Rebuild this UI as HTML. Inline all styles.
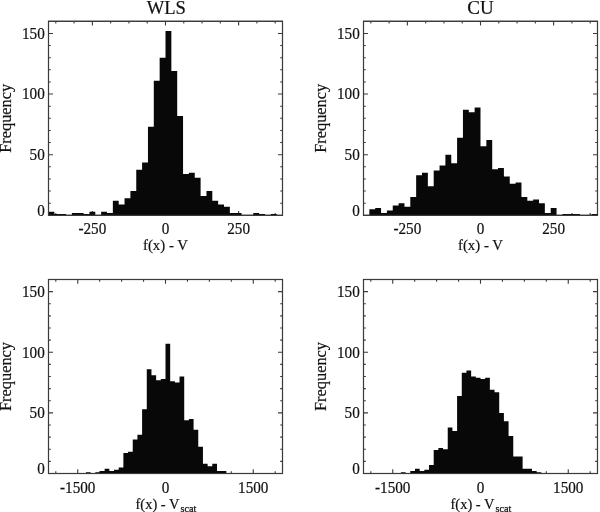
<!DOCTYPE html>
<html><head><meta charset="utf-8"><style>
html,body{margin:0;padding:0;background:#fff;}
body{width:600px;height:512px;overflow:hidden;}
svg{display:block;will-change:transform;}
.tk{font-family:"Liberation Serif", serif;font-size:15.5px;fill:#111;stroke:#111;stroke-width:0.2px;}
.sub{font-family:"Liberation Serif", serif;font-size:10.2px;fill:#111;stroke:#111;stroke-width:0.25px;}
.yt{font-family:"Liberation Serif", serif;font-size:16px;fill:#111;stroke:#111;stroke-width:0.2px;}
.ti{font-family:"Liberation Serif", serif;font-size:19px;fill:#111;stroke:#111;stroke-width:0.2px;}
</style></head><body>
<svg width="600" height="512" viewBox="0 0 600 512">
<rect width="600" height="512" fill="#fff"/>
<rect x="48.5" y="21.3" width="234.0" height="194.0" fill="none" stroke="#222" stroke-width="1.1"/>
<path d="M48.5 203.18h2.3M282.5 203.18h-2.3M48.5 191.05h2.3M282.5 191.05h-2.3M48.5 178.93h2.3M282.5 178.93h-2.3M48.5 166.80h2.3M282.5 166.80h-2.3M48.5 154.68h4.5M282.5 154.68h-4.5M48.5 142.55h2.3M282.5 142.55h-2.3M48.5 130.43h2.3M282.5 130.43h-2.3M48.5 118.30h2.3M282.5 118.30h-2.3M48.5 106.18h2.3M282.5 106.18h-2.3M48.5 94.05h4.5M282.5 94.05h-4.5M48.5 81.93h2.3M282.5 81.93h-2.3M48.5 69.80h2.3M282.5 69.80h-2.3M48.5 57.68h2.3M282.5 57.68h-2.3M48.5 45.55h2.3M282.5 45.55h-2.3M48.5 33.43h4.5M282.5 33.43h-4.5M92.38 21.3v4.2M92.38 215.3v-4.2M165.50 21.3v4.2M165.50 215.3v-4.2M238.62 21.3v4.2M238.62 215.3v-4.2M55.81 21.3v2.2M55.81 215.3v-2.2M74.09 21.3v2.2M74.09 215.3v-2.2M110.66 21.3v2.2M110.66 215.3v-2.2M128.94 21.3v2.2M128.94 215.3v-2.2M147.22 21.3v2.2M147.22 215.3v-2.2M183.78 21.3v2.2M183.78 215.3v-2.2M202.06 21.3v2.2M202.06 215.3v-2.2M220.34 21.3v2.2M220.34 215.3v-2.2M256.91 21.3v2.2M256.91 215.3v-2.2M275.19 21.3v2.2M275.19 215.3v-2.2" stroke="#3a3a3a" stroke-width="1.1" fill="none"/>
<path d="M48.50 215.30L48.50 211.66L54.35 211.66L54.35 214.09L60.20 214.09L60.20 214.09L66.05 214.09L66.05 215.30L71.90 215.30L71.90 212.88L77.75 212.88L77.75 212.88L83.60 212.88L83.60 214.09L89.45 214.09L89.45 211.66L95.30 211.66L95.30 215.30L101.15 215.30L101.15 211.66L107.00 211.66L107.00 212.88L112.85 212.88L112.85 200.75L118.70 200.75L118.70 204.39L124.55 204.39L124.55 198.33L130.40 198.33L130.40 191.05L136.25 191.05L136.25 169.71L142.10 169.71L142.10 162.44L147.95 162.44L147.95 126.79L153.80 126.79L153.80 80.71L159.65 80.71L159.65 57.68L165.50 57.68L165.50 31.00L171.35 31.00L171.35 71.01L177.20 71.01L177.20 115.88L183.05 115.88L183.05 174.08L188.90 174.08L188.90 172.86L194.75 172.86L194.75 177.71L200.60 177.71L200.60 195.90L206.45 195.90L206.45 191.05L212.30 191.05L212.30 200.75L218.15 200.75L218.15 204.39L224.00 204.39L224.00 206.81L229.85 206.81L229.85 212.88L235.70 212.88L235.70 212.88L241.55 212.88L241.55 215.30L247.40 215.30L247.40 215.30L253.25 215.30L253.25 212.88L259.10 212.88L259.10 214.09L264.95 214.09L264.95 215.30L270.80 215.30L270.80 214.09L276.65 214.09L276.65 215.30L282.50 215.30L282.50 215.30Z" fill="#080808"/>
<rect x="48.5" y="21.3" width="234.0" height="194.0" fill="none" stroke="#3a3a3a" stroke-width="1.1"/>
<text transform="translate(44.80 215.50) scale(0.98 1.075)" text-anchor="end" class="tk">0</text>
<text transform="translate(44.80 159.98) scale(0.98 1.075)" text-anchor="end" class="tk">50</text>
<text transform="translate(44.80 99.35) scale(0.98 1.075)" text-anchor="end" class="tk">100</text>
<text transform="translate(44.80 38.73) scale(0.98 1.075)" text-anchor="end" class="tk">150</text>
<text transform="translate(92.38 234.30) scale(0.98 1.075)" text-anchor="middle" class="tk">-250</text>
<text transform="translate(165.50 234.30) scale(0.98 1.075)" text-anchor="middle" class="tk">0</text>
<text transform="translate(238.62 234.30) scale(0.98 1.075)" text-anchor="middle" class="tk">250</text>
<text transform="translate(10.60 118.30) rotate(-90)" text-anchor="middle" class="yt" textLength="69" lengthAdjust="spacingAndGlyphs">Frequency</text>
<text x="165.50" y="250.30" text-anchor="middle" class="tk" textLength="45" lengthAdjust="spacingAndGlyphs">f(x) - V</text>
<text transform="translate(166.35 13.7) scale(0.977 1)" text-anchor="middle" class="ti">WLS</text>
<rect x="363.5" y="21.3" width="234.0" height="194.0" fill="none" stroke="#222" stroke-width="1.1"/>
<path d="M363.5 203.18h2.3M597.5 203.18h-2.3M363.5 191.05h2.3M597.5 191.05h-2.3M363.5 178.93h2.3M597.5 178.93h-2.3M363.5 166.80h2.3M597.5 166.80h-2.3M363.5 154.68h4.5M597.5 154.68h-4.5M363.5 142.55h2.3M597.5 142.55h-2.3M363.5 130.43h2.3M597.5 130.43h-2.3M363.5 118.30h2.3M597.5 118.30h-2.3M363.5 106.18h2.3M597.5 106.18h-2.3M363.5 94.05h4.5M597.5 94.05h-4.5M363.5 81.93h2.3M597.5 81.93h-2.3M363.5 69.80h2.3M597.5 69.80h-2.3M363.5 57.68h2.3M597.5 57.68h-2.3M363.5 45.55h2.3M597.5 45.55h-2.3M363.5 33.43h4.5M597.5 33.43h-4.5M407.38 21.3v4.2M407.38 215.3v-4.2M480.50 21.3v4.2M480.50 215.3v-4.2M553.62 21.3v4.2M553.62 215.3v-4.2M370.81 21.3v2.2M370.81 215.3v-2.2M389.09 21.3v2.2M389.09 215.3v-2.2M425.66 21.3v2.2M425.66 215.3v-2.2M443.94 21.3v2.2M443.94 215.3v-2.2M462.22 21.3v2.2M462.22 215.3v-2.2M498.78 21.3v2.2M498.78 215.3v-2.2M517.06 21.3v2.2M517.06 215.3v-2.2M535.34 21.3v2.2M535.34 215.3v-2.2M571.91 21.3v2.2M571.91 215.3v-2.2M590.19 21.3v2.2M590.19 215.3v-2.2" stroke="#3a3a3a" stroke-width="1.1" fill="none"/>
<path d="M363.50 215.30L363.50 215.30L369.35 215.30L369.35 209.24L375.20 209.24L375.20 208.03L381.05 208.03L381.05 212.88L386.90 212.88L386.90 210.45L392.75 210.45L392.75 205.60L398.60 205.60L398.60 203.18L404.45 203.18L404.45 206.81L410.30 206.81L410.30 197.11L416.15 197.11L416.15 175.29L422.00 175.29L422.00 172.86L427.85 172.86L427.85 186.20L433.70 186.20L433.70 170.44L439.55 170.44L439.55 165.59L445.40 165.59L445.40 154.68L451.25 154.68L451.25 163.16L457.10 163.16L457.10 137.70L462.95 137.70L462.95 109.81L468.80 109.81L468.80 112.24L474.65 112.24L474.65 107.39L480.50 107.39L480.50 146.19L486.35 146.19L486.35 140.12L492.20 140.12L492.20 169.23L498.05 169.23L498.05 168.01L503.90 168.01L503.90 176.50L509.75 176.50L509.75 183.78L515.60 183.78L515.60 182.56L521.45 182.56L521.45 197.11L527.30 197.11L527.30 200.75L533.15 200.75L533.15 199.54L539.00 199.54L539.00 203.18L544.85 203.18L544.85 212.88L550.70 212.88L550.70 208.03L556.55 208.03L556.55 215.30L562.40 215.30L562.40 214.09L568.25 214.09L568.25 214.09L574.10 214.09L574.10 214.09L579.95 214.09L579.95 215.30L585.80 215.30L585.80 215.30L591.65 215.30L591.65 214.09L597.50 214.09L597.50 215.30Z" fill="#080808"/>
<rect x="363.5" y="21.3" width="234.0" height="194.0" fill="none" stroke="#3a3a3a" stroke-width="1.1"/>
<text transform="translate(359.80 215.50) scale(0.98 1.075)" text-anchor="end" class="tk">0</text>
<text transform="translate(359.80 159.98) scale(0.98 1.075)" text-anchor="end" class="tk">50</text>
<text transform="translate(359.80 99.35) scale(0.98 1.075)" text-anchor="end" class="tk">100</text>
<text transform="translate(359.80 38.73) scale(0.98 1.075)" text-anchor="end" class="tk">150</text>
<text transform="translate(407.38 234.30) scale(0.98 1.075)" text-anchor="middle" class="tk">-250</text>
<text transform="translate(480.50 234.30) scale(0.98 1.075)" text-anchor="middle" class="tk">0</text>
<text transform="translate(553.62 234.30) scale(0.98 1.075)" text-anchor="middle" class="tk">250</text>
<text transform="translate(325.60 118.30) rotate(-90)" text-anchor="middle" class="yt" textLength="69" lengthAdjust="spacingAndGlyphs">Frequency</text>
<text x="480.50" y="250.30" text-anchor="middle" class="tk" textLength="45" lengthAdjust="spacingAndGlyphs">f(x) - V</text>
<text x="480.50" y="13.70" text-anchor="middle" class="ti">CU</text>
<rect x="48.5" y="279.5" width="234.0" height="194.0" fill="none" stroke="#222" stroke-width="1.1"/>
<path d="M48.5 461.38h2.3M282.5 461.38h-2.3M48.5 449.25h2.3M282.5 449.25h-2.3M48.5 437.12h2.3M282.5 437.12h-2.3M48.5 425.00h2.3M282.5 425.00h-2.3M48.5 412.88h4.5M282.5 412.88h-4.5M48.5 400.75h2.3M282.5 400.75h-2.3M48.5 388.62h2.3M282.5 388.62h-2.3M48.5 376.50h2.3M282.5 376.50h-2.3M48.5 364.38h2.3M282.5 364.38h-2.3M48.5 352.25h4.5M282.5 352.25h-4.5M48.5 340.12h2.3M282.5 340.12h-2.3M48.5 328.00h2.3M282.5 328.00h-2.3M48.5 315.88h2.3M282.5 315.88h-2.3M48.5 303.75h2.3M282.5 303.75h-2.3M48.5 291.62h4.5M282.5 291.62h-4.5M77.75 279.5v4.2M77.75 473.5v-4.2M165.50 279.5v4.2M165.50 473.5v-4.2M253.25 279.5v4.2M253.25 473.5v-4.2M55.81 279.5v2.2M55.81 473.5v-2.2M99.69 279.5v2.2M99.69 473.5v-2.2M121.62 279.5v2.2M121.62 473.5v-2.2M143.56 279.5v2.2M143.56 473.5v-2.2M187.44 279.5v2.2M187.44 473.5v-2.2M209.38 279.5v2.2M209.38 473.5v-2.2M231.31 279.5v2.2M231.31 473.5v-2.2M275.19 279.5v2.2M275.19 473.5v-2.2" stroke="#3a3a3a" stroke-width="1.1" fill="none"/>
<path d="M48.50 473.50L48.50 473.50L53.18 473.50L53.18 473.50L57.86 473.50L57.86 473.50L62.54 473.50L62.54 473.50L67.22 473.50L67.22 473.50L71.90 473.50L71.90 473.50L76.58 473.50L76.58 473.50L81.26 473.50L81.26 473.50L85.94 473.50L85.94 472.29L90.62 472.29L90.62 473.50L95.30 473.50L95.30 472.29L99.98 472.29L99.98 471.07L104.66 471.07L104.66 468.65L109.34 468.65L109.34 471.07L114.02 471.07L114.02 469.86L118.70 469.86L118.70 467.44L123.38 467.44L123.38 452.89L128.06 452.89L128.06 451.68L132.74 451.68L132.74 439.55L137.42 439.55L137.42 434.70L142.10 434.70L142.10 409.24L146.78 409.24L146.78 369.23L151.46 369.23L151.46 375.29L156.14 375.29L156.14 380.14L160.82 380.14L160.82 378.93L165.50 378.93L165.50 343.76L170.18 343.76L170.18 381.35L174.86 381.35L174.86 382.56L179.54 382.56L179.54 376.50L184.22 376.50L184.22 420.15L188.90 420.15L188.90 418.94L193.58 418.94L193.58 429.85L198.26 429.85L198.26 446.82L202.94 446.82L202.94 463.80L207.62 463.80L207.62 466.23L212.30 466.23L212.30 463.80L216.98 463.80L216.98 471.07L221.66 471.07L221.66 471.07L226.34 471.07L226.34 473.50L231.02 473.50L231.02 473.50L235.70 473.50L235.70 473.50L240.38 473.50L240.38 473.50L245.06 473.50L245.06 473.50L249.74 473.50L249.74 473.50L254.42 473.50L254.42 473.50L259.10 473.50L259.10 473.50L263.78 473.50L263.78 473.50L268.46 473.50L268.46 473.50L273.14 473.50L273.14 473.50L277.82 473.50L277.82 473.50L282.50 473.50L282.50 473.50Z" fill="#080808"/>
<rect x="48.5" y="279.5" width="234.0" height="194.0" fill="none" stroke="#3a3a3a" stroke-width="1.1"/>
<text transform="translate(44.80 473.70) scale(0.98 1.075)" text-anchor="end" class="tk">0</text>
<text transform="translate(44.80 418.18) scale(0.98 1.075)" text-anchor="end" class="tk">50</text>
<text transform="translate(44.80 357.55) scale(0.98 1.075)" text-anchor="end" class="tk">100</text>
<text transform="translate(44.80 296.93) scale(0.98 1.075)" text-anchor="end" class="tk">150</text>
<text transform="translate(77.75 492.50) scale(0.98 1.075)" text-anchor="middle" class="tk">-1500</text>
<text transform="translate(165.50 492.50) scale(0.98 1.075)" text-anchor="middle" class="tk">0</text>
<text transform="translate(253.25 492.50) scale(0.98 1.075)" text-anchor="middle" class="tk">1500</text>
<text transform="translate(10.60 376.50) rotate(-90)" text-anchor="middle" class="yt" textLength="69" lengthAdjust="spacingAndGlyphs">Frequency</text>
<text x="157.50" y="508.50" text-anchor="middle" class="tk" textLength="44" lengthAdjust="spacingAndGlyphs">f(x) - V</text>
<text x="180.50" y="512.00" class="sub">scat</text>
<rect x="363.5" y="279.5" width="234.0" height="194.0" fill="none" stroke="#222" stroke-width="1.1"/>
<path d="M363.5 461.38h2.3M597.5 461.38h-2.3M363.5 449.25h2.3M597.5 449.25h-2.3M363.5 437.12h2.3M597.5 437.12h-2.3M363.5 425.00h2.3M597.5 425.00h-2.3M363.5 412.88h4.5M597.5 412.88h-4.5M363.5 400.75h2.3M597.5 400.75h-2.3M363.5 388.62h2.3M597.5 388.62h-2.3M363.5 376.50h2.3M597.5 376.50h-2.3M363.5 364.38h2.3M597.5 364.38h-2.3M363.5 352.25h4.5M597.5 352.25h-4.5M363.5 340.12h2.3M597.5 340.12h-2.3M363.5 328.00h2.3M597.5 328.00h-2.3M363.5 315.88h2.3M597.5 315.88h-2.3M363.5 303.75h2.3M597.5 303.75h-2.3M363.5 291.62h4.5M597.5 291.62h-4.5M392.75 279.5v4.2M392.75 473.5v-4.2M480.50 279.5v4.2M480.50 473.5v-4.2M568.25 279.5v4.2M568.25 473.5v-4.2M370.81 279.5v2.2M370.81 473.5v-2.2M414.69 279.5v2.2M414.69 473.5v-2.2M436.62 279.5v2.2M436.62 473.5v-2.2M458.56 279.5v2.2M458.56 473.5v-2.2M502.44 279.5v2.2M502.44 473.5v-2.2M524.38 279.5v2.2M524.38 473.5v-2.2M546.31 279.5v2.2M546.31 473.5v-2.2M590.19 279.5v2.2M590.19 473.5v-2.2" stroke="#3a3a3a" stroke-width="1.1" fill="none"/>
<path d="M363.50 473.50L363.50 473.50L368.18 473.50L368.18 473.50L372.86 473.50L372.86 473.50L377.54 473.50L377.54 473.50L382.22 473.50L382.22 473.50L386.90 473.50L386.90 473.50L391.58 473.50L391.58 473.50L396.26 473.50L396.26 473.50L400.94 473.50L400.94 472.29L405.62 472.29L405.62 473.50L410.30 473.50L410.30 471.07L414.98 471.07L414.98 468.65L419.66 468.65L419.66 471.07L424.34 471.07L424.34 469.86L429.02 469.86L429.02 465.01L433.70 465.01L433.70 449.98L438.38 449.98L438.38 448.04L443.06 448.04L443.06 449.25L447.74 449.25L447.74 427.43L452.42 427.43L452.42 431.06L457.10 431.06L457.10 395.90L461.78 395.90L461.78 372.86L466.46 372.86L466.46 370.44L471.14 370.44L471.14 376.50L475.82 376.50L475.82 377.71L480.50 377.71L480.50 378.93L485.18 378.93L485.18 377.71L489.86 377.71L489.86 389.84L494.54 389.84L494.54 392.26L499.22 392.26L499.22 412.88L503.90 412.88L503.90 421.36L508.58 421.36L508.58 435.91L513.26 435.91L513.26 456.52L517.94 456.52L517.94 456.52L522.62 456.52L522.62 468.65L527.30 468.65L527.30 468.65L531.98 468.65L531.98 471.07L536.66 471.07L536.66 472.29L541.34 472.29L541.34 473.50L546.02 473.50L546.02 473.50L550.70 473.50L550.70 473.50L555.38 473.50L555.38 473.50L560.06 473.50L560.06 473.50L564.74 473.50L564.74 473.50L569.42 473.50L569.42 473.50L574.10 473.50L574.10 473.50L578.78 473.50L578.78 473.50L583.46 473.50L583.46 473.50L588.14 473.50L588.14 473.50L592.82 473.50L592.82 473.50L597.50 473.50L597.50 473.50Z" fill="#080808"/>
<rect x="363.5" y="279.5" width="234.0" height="194.0" fill="none" stroke="#3a3a3a" stroke-width="1.1"/>
<text transform="translate(359.80 473.70) scale(0.98 1.075)" text-anchor="end" class="tk">0</text>
<text transform="translate(359.80 418.18) scale(0.98 1.075)" text-anchor="end" class="tk">50</text>
<text transform="translate(359.80 357.55) scale(0.98 1.075)" text-anchor="end" class="tk">100</text>
<text transform="translate(359.80 296.93) scale(0.98 1.075)" text-anchor="end" class="tk">150</text>
<text transform="translate(392.75 492.50) scale(0.98 1.075)" text-anchor="middle" class="tk">-1500</text>
<text transform="translate(480.50 492.50) scale(0.98 1.075)" text-anchor="middle" class="tk">0</text>
<text transform="translate(568.25 492.50) scale(0.98 1.075)" text-anchor="middle" class="tk">1500</text>
<text transform="translate(325.60 376.50) rotate(-90)" text-anchor="middle" class="yt" textLength="69" lengthAdjust="spacingAndGlyphs">Frequency</text>
<text x="472.50" y="508.50" text-anchor="middle" class="tk" textLength="44" lengthAdjust="spacingAndGlyphs">f(x) - V</text>
<text x="495.50" y="512.00" class="sub">scat</text>
</svg>
</body></html>
